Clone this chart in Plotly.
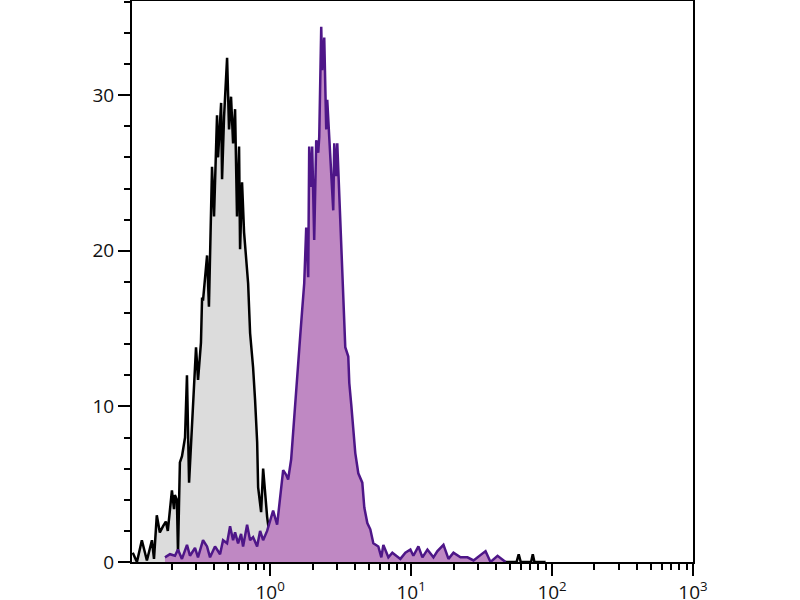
import plotly.graph_objects as go

# Control sample (gray) - intensity / count
ctrl_x = [0.106, 0.1135, 0.123, 0.1336, 0.145, 0.150, 0.157, 0.165, 0.174, 0.182,
          0.188, 0.201, 0.208, 0.211, 0.218, 0.222, 0.229, 0.237, 0.249, 0.257,
          0.266, 0.279, 0.284, 0.298, 0.308, 0.323, 0.329, 0.334, 0.357, 0.368,
          0.387, 0.400, 0.420, 0.427, 0.449, 0.456, 0.471, 0.495, 0.511, 0.528,
          0.546, 0.564, 0.582, 0.602, 0.612, 0.632, 0.653, 0.687, 0.698, 0.721,
          0.757, 0.782, 0.809, 0.822, 0.863, 0.892, 0.921, 0.952, 0.984, 1.033,
          1.086, 3.0, 7.5, 7.7, 7.9, 20.0, 56.0, 58.0, 60.0, 71.0, 73.0, 75.0,
          90.0]
ctrl_y = [0.6, 0.0, 1.4, 0.1, 1.4, 0.2, 3.0, 1.9, 2.3, 2.6,
          2.0, 4.6, 3.4, 4.3, 4.0, 0.6, 6.4, 6.8, 8.0, 12.0,
          5.1, 8.7, 10.6, 13.8, 11.7, 14.1, 17.0, 16.8, 19.7, 16.4,
          25.4, 22.2, 28.7, 26.0, 29.5, 24.6, 28.6, 32.4, 27.8, 29.9,
          26.9, 29.1, 22.2, 26.7, 20.1, 24.4, 21.2, 19.0, 17.9, 14.7,
          12.5, 10.4, 7.7, 4.8, 3.2, 6.0, 4.4, 2.9, 1.9, 0.6,
          0.0, 0.0, 0.0, 0.4, 0.0, 0.0, 0.0, 0.5, 0.0, 0.0, 0.5, 0.0,
          0.0]

# Stained sample (purple)
stain_x = [0.1794, 0.1947, 0.2113, 0.2219, 0.2368, 0.2571, 0.2700, 0.2931, 0.3078, 0.3341,
           0.3567, 0.3746, 0.4064, 0.4412, 0.4634, 0.4948, 0.5197, 0.5458, 0.5640, 0.5924,
           0.6222, 0.6428, 0.6864, 0.7208, 0.7570, 0.8084, 0.8489, 0.8917, 0.9521, 1.000,
           1.050, 1.121, 1.178, 1.237, 1.299, 1.342, 1.410, 1.457, 1.531, 1.581,
           1.634, 1.688, 1.716, 1.745, 1.803, 1.863, 1.893, 1.956, 1.988, 2.054,
           2.123, 2.194, 2.230, 2.304, 2.342, 2.420, 2.500, 2.542, 2.626, 2.713,
           2.804, 2.850, 2.945, 2.994, 3.093, 3.196, 3.249, 3.303, 3.412, 3.584,
           3.644, 3.764, 3.890, 4.019, 4.222, 4.507, 4.657, 4.892, 5.137, 5.397,
           5.856, 6.151, 6.356, 6.898, 7.363, 8.395, 9.110, 9.886, 10.38, 11.27,
           12.03, 13.06, 14.41, 15.38, 16.97, 18.42, 19.98, 22.41, 25.13, 27.73,
           33.75, 36.61, 41.06, 46.8]
stain_y = [0.3, 0.5, 0.4, 0.8, 0.2, 1.1, 0.4, 0.9, 0.3, 1.4,
           1.0, 0.3, 1.0, 0.5, 1.4, 1.2, 2.3, 1.4, 1.9, 1.2,
           1.8, 1.0, 2.4, 1.4, 1.6, 1.0, 2.0, 1.4, 2.0, 2.7,
           3.3, 2.4, 4.2, 5.9, 5.6, 5.3, 6.6, 8.5, 11.1, 13.0,
           14.5, 16.2, 17.5, 17.9, 21.5, 18.3, 26.7, 24.1, 26.7, 20.7,
           27.1, 26.3, 27.3, 34.4, 31.6, 33.7, 27.8, 29.7, 27.3, 24.6,
           22.6, 26.9, 24.8, 26.9, 23.7, 20.1, 18.1, 16.4, 13.8, 13.2,
           11.5, 10.1, 8.5, 7.0, 5.7, 5.1, 3.5, 2.5, 2.1, 1.2,
           1.0, 0.3, 1.1, 0.3, 0.6, 0.2, 0.6, 0.8, 0.4, 1.0,
           0.3, 0.8, 0.3, 0.7, 1.1, 0.2, 0.6, 0.3, 0.3, 0.1,
           0.7, 0.0, 0.4, 0.0]

major_x = [1, 10, 100, 1000]
major_x_text = ["10<sup>0</sup>", "10<sup>1</sup>", "10<sup>2</sup>", "10<sup>3</sup>"]
minor_x = [k * 10 ** e for e in range(-1, 3) for k in range(2, 10)]

fig = go.Figure()

fig.add_trace(go.Scatter(
    x=ctrl_x, y=ctrl_y, mode="lines", fill="tozeroy",
    fillcolor="#dcdcdc", line=dict(color="black", width=2.5),
    showlegend=False
))
fig.add_trace(go.Scatter(
    x=stain_x, y=stain_y, mode="lines", fill="tozeroy",
    fillcolor="#bf88c3", line=dict(color="#4e1688", width=2.5),
    showlegend=False
))

fig.update_xaxes(
    type="log", range=[-0.98, 3.0], automargin=False,
    tickmode="array", tickvals=major_x, ticktext=major_x_text,
    ticks="outside", ticklen=12, tickwidth=2, tickcolor="black",
    minor=dict(tickmode="array", tickvals=minor_x, ticks="outside",
               ticklen=6, tickwidth=2, tickcolor="black"),
    showline=True, linecolor="black", linewidth=2, mirror=True,
    showgrid=False, zeroline=False
)
fig.update_yaxes(
    range=[0, 36.05], tickvals=[0, 10, 20, 30], automargin=False,
    ticks="outside", ticklen=12, tickwidth=2, tickcolor="black",
    minor=dict(dtick=2, ticks="outside", ticklen=6, tickwidth=2, tickcolor="black"),
    showline=True, linecolor="black", linewidth=2, mirror=True,
    showgrid=False, zeroline=False
)

fig.update_layout(
    width=800, height=600,
    plot_bgcolor="white", paper_bgcolor="white",
    font=dict(family="Open Sans", size=19, color="#111111"),
    margin=dict(l=132, r=107, t=1, b=38)
)

# drop the default page margin so the figure sits at the window corner
fig.write_html("out.html", config={"displayModeBar": False},
               post_script="document.body.style.margin = '0';")
